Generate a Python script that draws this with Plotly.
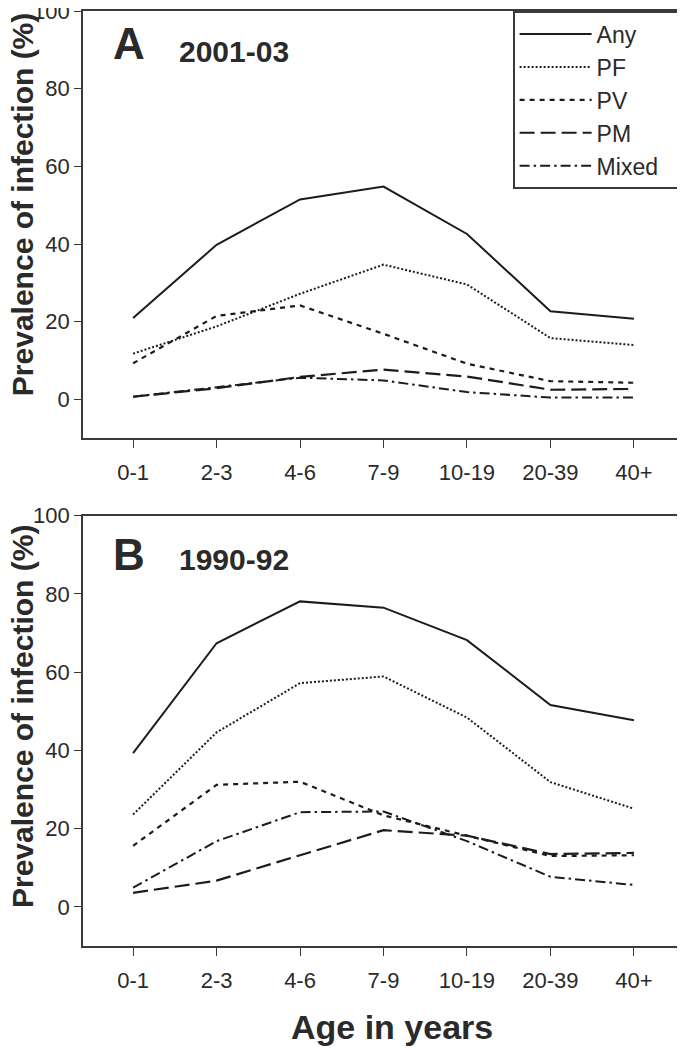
import plotly.graph_objects as go

age_groups = ["0-1", "2-3", "4-6", "7-9", "10-19", "20-39", "40+"]
series_names = ["Any", "PF", "PV", "PM", "Mixed"]

# Panel A: 2001-03
a_any = [21.0, 39.8, 51.5, 54.8, 42.6, 22.7, 20.8]
a_pf = [11.8, 18.8, 27.2, 34.7, 29.6, 15.8, 14.0]
a_pv = [9.3, 21.5, 24.2, 16.9, 9.2, 4.7, 4.3]
a_pm = [0.7, 2.9, 5.8, 7.7, 5.9, 2.5, 2.7]
a_mixed = [0.7, 3.1, 5.6, 4.9, 1.9, 0.5, 0.5]

# Panel B: 1990-92
b_any = [39.3, 67.4, 78.1, 76.5, 68.2, 51.6, 47.7]
b_pf = [23.6, 44.6, 57.2, 58.9, 48.4, 31.9, 25.1]
b_pv = [15.6, 31.2, 32.0, 23.4, 18.2, 13.0, 13.2]
b_pm = [3.6, 6.7, 13.2, 19.6, 18.2, 13.5, 13.8]
b_mixed = [4.9, 16.8, 24.2, 24.4, 16.8, 7.7, 5.6]

panel_a = [a_any, a_pf, a_pv, a_pm, a_mixed]
panel_b = [b_any, b_pf, b_pv, b_pm, b_mixed]

INK = "#1c1c1c"
FRAME = "#3a3a3a"
styles = {
    "Any": dict(dash="solid", width=2.0),
    "PF": dict(dash="2px,2px", width=2.0),
    "PV": dict(dash="5px,5px", width=2.2),
    "PM": dict(dash="15px,6px", width=2.2),
    "Mixed": dict(dash="10px,4px,2.5px,4px", width=2.0),
}
# legend labels (the last one padded so the legend box reaches the frame)
legend_labels = ["Any", "PF", "PV", "PM", "Mixed\u00a0\u00a0\u00a0"]

fig = go.Figure()
for name, label, vals in zip(series_names, legend_labels, panel_a):
    fig.add_trace(go.Scatter(x=age_groups, y=vals, mode="lines", name=label,
                             line=dict(color=INK, **styles[name]),
                             xaxis="x", yaxis="y", showlegend=True))
for name, vals in zip(series_names, panel_b):
    fig.add_trace(go.Scatter(x=age_groups, y=vals, mode="lines", name=name,
                             line=dict(color=INK, **styles[name]),
                             xaxis="x2", yaxis="y2", showlegend=False))

FONT = "Liberation Sans, Arial, Helvetica, sans-serif"
tick_font = dict(family=FONT, size=22, color="#2a2a2a")

xcommon = dict(type="category", range=[-0.6, 6.6], showline=True, mirror=True,
               linecolor=FRAME, linewidth=1.6, ticks="outside", ticklen=8,
               tickwidth=1.4, tickcolor=FRAME, showgrid=False, zeroline=False,
               tickfont=tick_font, ticklabelstandoff=6, automargin=False)
ycommon = dict(range=[-10, 100], tickvals=[0, 20, 40, 60, 80, 100],
               showline=True, mirror=True, linecolor=FRAME, linewidth=1.6,
               ticks="outside", ticklen=7, tickwidth=1.4, tickcolor=FRAME,
               showgrid=False, zeroline=False, tickfont=tick_font,
               automargin=False, ticklabeloverflow="allow")

# the page adds an 8px body margin, so the figure is 677x1042
fig.update_layout(
    width=677, height=1042,
    margin=dict(l=75, r=1, t=3, b=104, autoexpand=False),
    paper_bgcolor="white", plot_bgcolor="white",
    xaxis=dict(anchor="y", domain=[0, 1], **xcommon),
    yaxis=dict(anchor="x", domain=[0.543, 1], **ycommon),
    xaxis2=dict(anchor="y2", domain=[0, 1], **xcommon),
    yaxis2=dict(anchor="x2", domain=[0, 0.4602], **ycommon),
    legend=dict(x=0.7155, xanchor="left", y=1, yanchor="top",
                bgcolor="white", bordercolor=FRAME, borderwidth=1.6,
                font=dict(family=FONT, size=23, color="#2a2a2a"),
                itemwidth=72, tracegroupgap=0),
    showlegend=True,
)

ann = []
for xr, yr, letter, period, ly, py, ty in [
        ("x domain", "y domain", "A", "2001-03", 0.925, 0.906, 0.548),
        ("x2 domain", "y2 domain", "B", "1990-92", 0.911, 0.899, 0.5345)]:
    ann.append(dict(xref=xr, yref=yr, x=0.047, y=ly, xanchor="left",
                    yanchor="middle", text=letter, showarrow=False,
                    font=dict(family=FONT, size=44, weight="bold", color="#2a2a2a")))
    ann.append(dict(xref=xr, yref=yr, x=0.156, y=py, xanchor="left",
                    yanchor="middle", text=period, showarrow=False,
                    font=dict(family=FONT, size=30, weight="bold", color="#2a2a2a")))
    ann.append(dict(xref="paper", xanchor="center", x=-0.1015, yref=yr, y=ty,
                    yanchor="middle", text="Prevalence of infection (%)",
                    textangle=-90, showarrow=False,
                    font=dict(family=FONT, size=30, weight="bold", color="#2a2a2a")))
ann.append(dict(xref="paper", yref="paper", x=0.5136, y=-0.0864,
                xanchor="center", yanchor="middle", text="Age in years",
                showarrow=False,
                font=dict(family=FONT, size=34, weight="bold", color="#2a2a2a")))
fig.update_layout(annotations=ann)

fig.write_html("out.html")
